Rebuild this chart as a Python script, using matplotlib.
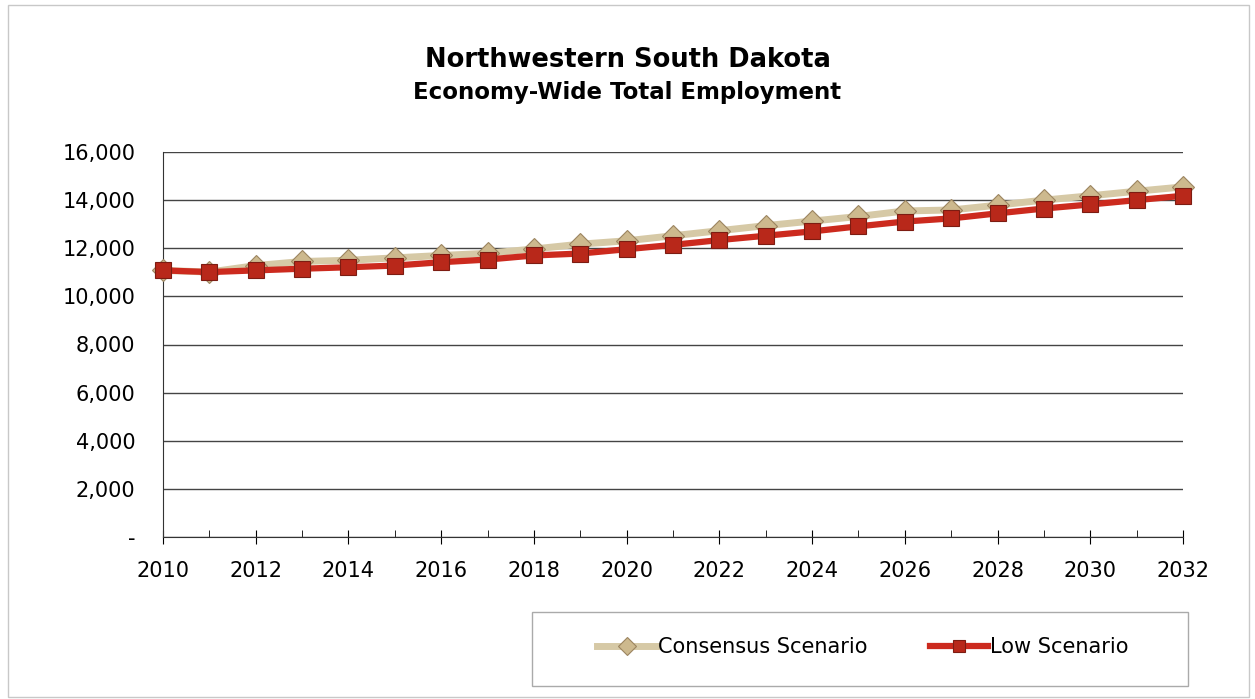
import numpy as np
import matplotlib.pyplot as plt
from matplotlib.ticker import FuncFormatter, MultipleLocator

years = list(range(2010, 2033))
consensus = [11080, 11010, 11280, 11450, 11500, 11600, 11700, 11790, 11970,
             12170, 12310, 12520, 12730, 12940, 13130, 13320, 13550,
             13590, 13790, 14000, 14180, 14370, 14550]
low = [11080, 11010, 11080, 11150, 11210, 11280, 11420, 11530, 11700,
       11780, 11960, 12140, 12340, 12520, 12700, 12910, 13110,
       13240, 13450, 13650, 13820, 14000, 14180]
y_ticks = [0, 2000, 4000, 6000, 8000, 10000, 12000, 14000, 16000]

fig = plt.figure(figsize=(12.55, 6.99), dpi=100)
ax = fig.add_axes([163/1255, 1-537/699, 1020/1255, 385/699])

# light frame round the whole chart
fig.patches.append(plt.Rectangle((8/1255, 2/699), 1241/1255, 692/699,
                                 transform=fig.transFigure, fill=False,
                                 edgecolor='#c8c8c8', lw=1))
# legend box
fig.patches.append(plt.Rectangle((532/1255, 1-686/699), 656/1255, 74/699,
                                 transform=fig.transFigure, fill=False,
                                 edgecolor='#aaaaaa', lw=1))

ax.plot(years, consensus, color='#d6c9a6', lw=5, marker='D', ms=11,
        mfc='#cdb98e', mec='#9c8560', mew=0.8, label='Consensus Scenario',
        zorder=3, clip_on=False)
ax.plot(years, low, color='#cc2a1e', lw=4.5, marker='s', ms=12,
        mfc='#b8281a', mec='#7d1c12', mew=0.8, label='Low Scenario',
        zorder=4, clip_on=False)

ax.set_xlim(2010, 2032)
ax.set_ylim(0, 16000)
ax.set_yticks(y_ticks)
ax.yaxis.set_major_formatter(FuncFormatter(lambda v, p: '-' if v == 0 else f'{int(v):,}'))
ax.xaxis.set_major_locator(MultipleLocator(2))
ax.xaxis.set_minor_locator(MultipleLocator(1))
ax.grid(axis='y', color='#444444', lw=1)
ax.set_axisbelow(True)

for s in ['top', 'right']:
    ax.spines[s].set_visible(False)
ax.spines['left'].set_color('#333333')
ax.spines['bottom'].set_color('#333333')
ax.tick_params(axis='y', length=0, pad=20, labelsize=15)
ax.tick_params(axis='x', which='major', direction='inout', length=10, labelsize=15, pad=12)
ax.tick_params(axis='x', which='minor', direction='in', length=5)

fig.text(0.5, 1-60/699, 'Northwestern South Dakota', ha='center', va='center',
         fontsize=18.5, fontweight='bold')
fig.text(0.5, 1-92/699, 'Economy-Wide Total Employment', ha='center', va='center',
         fontsize=16.5, fontweight='bold')

leg = fig.legend(loc='center', bbox_to_anchor=(863/1255, 1-647/699), ncol=2,
                 fontsize=15, frameon=False, handlelength=2.8,
                 handletextpad=0.1, columnspacing=3)
for h in leg.legend_handles:
    h.set_markersize(9)

fig.savefig('out.png', dpi=100)
